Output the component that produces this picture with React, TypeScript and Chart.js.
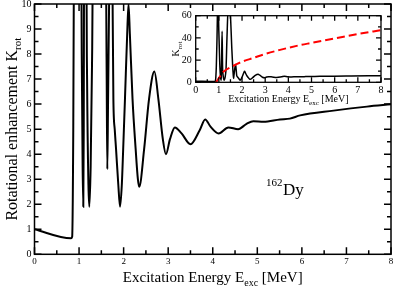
import React, { useEffect, useRef } from 'react';
import { Chart, registerables } from 'chart.js';

Chart.register(...registerables);

// Excitation energy grid (MeV) and rotational enhancement K_rot (black curve)
const energy = [0, 0.82, 0.845, 0.87, 0.89, 0.92, 0.96, 1.0, 1.04, 1.06, 1.08, 1.095, 1.105, 1.12, 1.14, 1.16, 1.18, 1.21, 1.23, 1.26, 1.29, 1.31, 1.35, 1.42, 1.5, 1.56, 1.6, 1.62, 1.634, 1.65, 1.68, 1.72, 1.745, 1.77, 1.8, 1.83, 1.88, 1.92, 1.96, 1.99, 2.03, 2.08, 2.11, 2.14, 2.2, 2.27, 2.32, 2.35, 2.46, 2.57, 2.69, 2.78, 2.88, 2.95, 3.04, 3.15, 3.3, 3.5, 3.71, 3.83, 3.95, 4.13, 4.35, 4.57, 4.75, 4.91, 5.14, 5.51, 5.73, 5.96, 6.71, 7.46, 8.0];
const kRot = [1.0, 0.64, 0.7, 5, 14, 40, 80, 45, 16, 8, 3.5, 1.9, 5, 20, 46, 14, 7, 2.8, 1.9, 3.5, 7.5, 12, 40, 75, 60, 30, 13, 7, 3.4, 6, 11, 16, 12, 6.2, 5, 4.2, 2.8, 1.9, 2.8, 4.2, 6.2, 8.8, 10.0, 8.8, 6.2, 4.2, 3.0, 2.7, 4.2, 6.2, 7.3, 6.2, 4.6, 4.0, 4.6, 5.07, 4.83, 4.4, 4.97, 5.39, 5.1, 4.83, 5.07, 5.0, 5.2, 5.32, 5.30, 5.39, 5.42, 5.55, 5.74, 5.9, 5.99];

// Red dashed curve in the inset
const fitEnergy = [0.88, 1.2, 1.55, 2.0, 2.5, 3.0, 3.6, 4.5, 5.0, 6.0, 7.0, 8.0];
const fitK = [0, 9.5, 14, 18.5, 22, 25.5, 29, 33.5, 35.5, 39.5, 43.5, 47];

// Axis ranges / tick steps
const mainX = { min: 0, max: 8, step: 1, minor: 0.5 };
const mainY = { min: 0, max: 10, step: 1, minor: 0.5 };
const insetX = { min: 0, max: 8, step: 1, minor: 0.5 };
const insetY = { min: 0, max: 60, step: 20, minor: 10 };

const FAMILY = '"Liberation Serif", "Times New Roman", serif';

type Seg = { t: string; size: number; dy?: number };

function drawRich(ctx: CanvasRenderingContext2D, segs: Seg[], cx: number, cy: number, rot: number) {
  ctx.save();
  ctx.translate(cx, cy);
  ctx.rotate(rot);
  ctx.fillStyle = '#000';
  ctx.textBaseline = 'alphabetic';
  ctx.textAlign = 'left';
  let w = 0;
  const widths = segs.map((s) => {
    ctx.font = `${s.size}px ${FAMILY}`;
    const m = ctx.measureText(s.t).width;
    w += m;
    return m;
  });
  let x = -w / 2;
  segs.forEach((s, i) => {
    ctx.font = `${s.size}px ${FAMILY}`;
    ctx.fillText(s.t, x, s.dy || 0);
    x += widths[i];
  });
  ctx.restore();
}

function framePlugin(id: string, xr: any, yr: any, majorLen: number, minorLen: number, lw: number) {
  return {
    id,
    afterDatasetsDraw(chart: any) {
      const { ctx, chartArea: a, scales } = chart;
      const xs = scales.x;
      const ys = scales.y;
      ctx.save();
      ctx.strokeStyle = '#000';
      ctx.lineWidth = lw;
      ctx.strokeRect(a.left, a.top, a.right - a.left, a.bottom - a.top);
      ctx.beginPath();
      const nx = Math.round((xr.max - xr.min) / xr.minor);
      for (let i = 0; i <= nx; i++) {
        const v = xr.min + i * xr.minor;
        const p = xs.getPixelForValue(v);
        const r = v / xr.step;
        const l = Math.abs(r - Math.round(r)) < 1e-6 ? majorLen : minorLen;
        ctx.moveTo(p, a.bottom);
        ctx.lineTo(p, a.bottom - l);
        ctx.moveTo(p, a.top);
        ctx.lineTo(p, a.top + l);
      }
      const ny = Math.round((yr.max - yr.min) / yr.minor);
      for (let i = 0; i <= ny; i++) {
        const v = yr.min + i * yr.minor;
        const p = ys.getPixelForValue(v);
        const r = v / yr.step;
        const l = Math.abs(r - Math.round(r)) < 1e-6 ? majorLen : minorLen;
        ctx.moveTo(a.left, p);
        ctx.lineTo(a.left + l, p);
        ctx.moveTo(a.right, p);
        ctx.lineTo(a.right - l, p);
      }
      ctx.stroke();
      ctx.restore();
    },
  };
}

const mainLabels = {
  id: 'mainLabels',
  afterDraw(chart: any) {
    const ctx = chart.ctx as CanvasRenderingContext2D;
    const a = chart.chartArea;
    drawRich(ctx, [
      { t: 'Excitation Energy E', size: 15 },
      { t: 'exc', size: 10, dy: 4 },
      { t: ' [MeV]', size: 15 },
    ], (a.left + a.right) / 2, 281.5, 0);
    drawRich(ctx, [
      { t: 'Rotational enhancement K', size: 16 },
      { t: 'rot', size: 11, dy: 4 },
    ], 17, (a.top + a.bottom) / 2, -Math.PI / 2);
    ctx.save();
    ctx.fillStyle = '#000';
    ctx.textBaseline = 'alphabetic';
    ctx.textAlign = 'left';
    ctx.font = `11px ${FAMILY}`;
    ctx.fillText('162', 266, 186);
    ctx.font = `17px ${FAMILY}`;
    ctx.fillText('Dy', 283, 195);
    ctx.restore();
  },
};

const insetLabels = {
  id: 'insetLabels',
  afterDraw(chart: any) {
    const ctx = chart.ctx as CanvasRenderingContext2D;
    const a = chart.chartArea;
    drawRich(ctx, [
      { t: 'Excitation Energy E', size: 10 },
      { t: 'exc', size: 7, dy: 3 },
      { t: ' [MeV]', size: 10 },
    ], (a.left + a.right) / 2, 102, 0);
    drawRich(ctx, [
      { t: 'K', size: 10 },
      { t: 'rot', size: 7, dy: 3 },
    ], 179, (a.top + a.bottom) / 2, -Math.PI / 2);
  },
};

function pts(xs: number[], ys: number[]) {
  return xs.map((x, i) => ({ x, y: ys[i] }));
}

export default function App() {
  const mainRef = useRef<HTMLCanvasElement>(null);
  const insetRef = useRef<HTMLCanvasElement>(null);

  useEffect(() => {
    const main = new Chart(mainRef.current!, {
      type: 'line',
      data: {
        datasets: [
          {
            data: pts(energy, kRot),
            borderColor: '#000',
            borderWidth: 2,
            pointRadius: 0,
            cubicInterpolationMode: 'monotone',
            fill: false,
          },
        ],
      },
      options: {
        responsive: false,
        animation: false,
        events: [],
        layout: { padding: { left: 0, top: 4, right: 4, bottom: 0 } },
        plugins: { legend: { display: false }, tooltip: { enabled: false }, title: { display: false } },
        scales: {
          x: {
            type: 'linear',
            min: mainX.min,
            max: mainX.max,
            ticks: { stepSize: mainX.step, font: { family: FAMILY, size: 9 }, color: '#000', padding: 2, maxRotation: 0, autoSkip: false },
            grid: { display: false, drawTicks: false },
            border: { display: false },
            afterFit: (s: any) => { s.height = 31.7; s.paddingLeft = 0; s.paddingRight = 0; },
          },
          y: {
            type: 'linear',
            min: mainY.min,
            max: mainY.max,
            ticks: { stepSize: mainY.step, font: { family: FAMILY, size: 10 }, color: '#000', padding: 3, autoSkip: false },
            grid: { display: false, drawTicks: false },
            border: { display: false },
            afterFit: (s: any) => { s.width = 34.5; s.paddingTop = 0; s.paddingBottom = 0; },
          },
        },
      } as any,
      plugins: [framePlugin('mainFrame', mainX, mainY, 7, 4, 1.5), mainLabels],
    });

    const inset = new Chart(insetRef.current!, {
      type: 'line',
      data: {
        datasets: [
          {
            data: pts(fitEnergy, fitK),
            borderColor: '#ff0000',
            borderWidth: 2,
            borderDash: [8, 4],
            pointRadius: 0,
            cubicInterpolationMode: 'monotone',
            fill: false,
          },
          {
            data: pts(energy, kRot),
            borderColor: '#000',
            borderWidth: 1.5,
            pointRadius: 0,
            cubicInterpolationMode: 'monotone',
            fill: false,
          },
        ],
      },
      options: {
        responsive: false,
        animation: false,
        events: [],
        layout: { padding: { left: 160, top: 15.7, right: 14, bottom: 189.7 } },
        plugins: { legend: { display: false }, tooltip: { enabled: false }, title: { display: false } },
        scales: {
          x: {
            type: 'linear',
            min: insetX.min,
            max: insetX.max,
            ticks: { stepSize: insetX.step, font: { family: FAMILY, size: 10 }, color: '#000', padding: 2, maxRotation: 0, autoSkip: false },
            grid: { display: false, drawTicks: false },
            border: { display: false },
            afterFit: (s: any) => { s.height = 14; s.paddingLeft = 0; s.paddingRight = 0; },
          },
          y: {
            type: 'linear',
            min: insetY.min,
            max: insetY.max,
            ticks: { stepSize: insetY.step, font: { family: FAMILY, size: 10 }, color: '#000', padding: 4, autoSkip: false },
            grid: { display: false, drawTicks: false },
            border: { display: false },
            afterFit: (s: any) => { s.width = 35.7; s.paddingTop = 0; s.paddingBottom = 0; },
          },
        },
      } as any,
      plugins: [framePlugin('insetFrame', insetX, insetY, 5, 3, 1.3), insetLabels],
    });

    return () => {
      main.destroy();
      inset.destroy();
    };
  }, []);

  return (
    <div style={{ position: 'fixed', left: 0, top: 0, width: 395, height: 286, background: '#fff' }}>
      <canvas ref={mainRef} width={395} height={286} style={{ position: 'absolute', left: 0, top: 0 }} />
      <canvas ref={insetRef} width={395} height={286} style={{ position: 'absolute', left: 0, top: 0 }} />
    </div>
  );
}
